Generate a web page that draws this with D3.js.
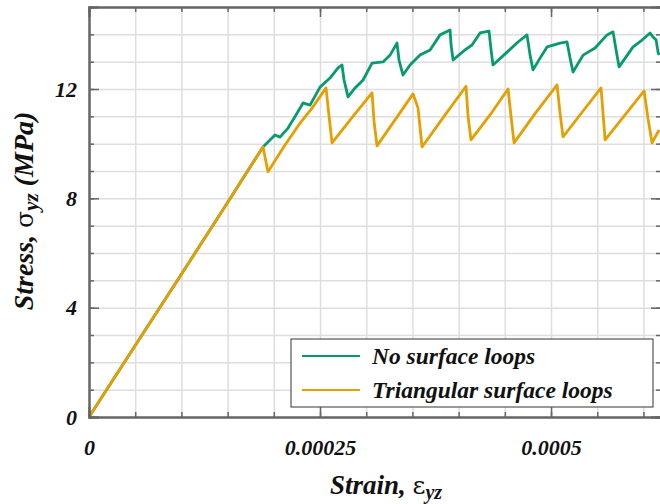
<!DOCTYPE html>
<html>
<head>
<meta charset="utf-8">
<script src="https://cdn.jsdelivr.net/npm/d3@7"></script>
<style>
  body { margin: 0; background: #fff; }
  svg text { font-family: "Liberation Serif", "DejaVu Serif", serif; font-weight: bold; font-style: italic; fill: #111; }
</style>
</head>
<body>
<div id="chart"></div>
<script>
// data
const strainGreen = [0, 0.00005, 0.0001, 0.00015, 0.0001883, 0.0001948, 0.0002013, 0.0002067, 0.0002154, 0.000224,
  0.0002316, 0.0002392, 0.00025, 0.0002608, 0.0002695, 0.0002738, 0.000276, 0.0002803, 0.0002879, 0.0002966,
  0.0003063, 0.0003182, 0.0003258, 0.0003333, 0.0003355, 0.0003398, 0.0003474, 0.0003582, 0.0003691, 0.0003799,
  0.0003907, 0.0003918, 0.000394, 0.0004069, 0.0004145, 0.0004232, 0.0004329, 0.0004351, 0.0004372, 0.0004524,
  0.0004643, 0.000474, 0.0004773, 0.0004805, 0.0004881, 0.0004957, 0.0005098, 0.0005173, 0.0005206, 0.0005238,
  0.0005347, 0.0005476, 0.0005606, 0.0005671, 0.0005704, 0.0005736, 0.0005888, 0.0005985, 0.0006072, 0.0006104,
  0.0006137, 0.0006158, 0.0006169];
const stressGreen = [0, 2.62, 5.22, 7.85, 9.88, 10.10, 10.32, 10.24, 10.57, 11.05,
  11.49, 11.41, 12.07, 12.40, 12.77, 12.88, 12.33, 11.71, 12.04, 12.33,
  12.95, 12.99, 13.24, 13.68, 13.06, 12.51, 12.88, 13.24, 13.43, 13.98,
  14.16, 13.61, 13.06, 13.43, 13.61, 14.05, 14.12, 13.43, 12.88, 13.35,
  13.72, 13.98, 13.24, 12.70, 13.13, 13.54, 13.68, 13.72, 13.13, 12.62,
  13.24, 13.50, 13.98, 14.09, 13.43, 12.81, 13.54, 13.79, 14.05, 13.90,
  13.79, 13.35, 13.24];

const strainOrange = [0, 0.00005, 0.0001, 0.00015, 0.0001883, 0.0001937, 0.0002121, 0.0002284, 0.0002414, 0.0002565,
  0.0002598, 0.000263, 0.0002846, 0.0003063, 0.0003085, 0.0003117, 0.0003312, 0.0003507, 0.0003561, 0.0003604,
  0.0003842, 0.000408, 0.0004102, 0.0004134, 0.000434, 0.0004535, 0.0004567, 0.00046, 0.0004827, 0.0005065,
  0.0005098, 0.000513, 0.0005336, 0.0005541, 0.0005563, 0.0005585, 0.0005801, 0.0006007, 0.000605, 0.0006093,
  0.0006169];
const stressOrange = [0, 2.62, 5.22, 7.85, 9.88, 8.97, 9.95, 10.75, 11.30, 12.04,
  11.00, 10.03, 10.95, 11.86, 10.80, 9.92, 10.87, 11.82, 11.30, 9.88,
  11.00, 12.10, 11.00, 10.14, 11.05, 12.00, 11.00, 10.03, 11.10, 12.15,
  11.10, 10.25, 11.15, 12.04, 11.10, 10.14, 11.05, 11.93, 10.90, 10.03,
  10.50];

const seriesNames = ["No surface loops", "Triangular surface loops"];
const seriesColors = ["#079a70", "#e69f00"];
const yMajor = [0, 4, 8, 12];
const xMajor = [0, 0.00025, 0.0005];
const xMajorLabels = ["0", "0.00025", "0.0005"];

const margin = { top: 7, left: 89 },
  width = 572,
  height = 410;

const x = d3.scaleLinear().domain([0, 0.000619]).range([0, width]);
const y = d3.scaleLinear().domain([0, 15]).range([height, 0]);

const svg = d3.select("#chart").append("svg")
  .attr("width", 660).attr("height", 504);

const g = svg.append("g").attr("transform", `translate(${margin.left},${margin.top})`);

const xMinor = d3.range(0, 0.000619, 0.00005);
const yMinor = d3.range(0, 16, 1);

// grid
g.append("g")
  .attr("transform", `translate(0,${height})`)
  .call(d3.axisBottom(x).tickValues(xMinor).tickSize(-height).tickFormat(""))
  .call((s) => s.select(".domain").remove())
  .call((s) => s.selectAll("line").attr("stroke", "#dedede").attr("stroke-width", 1.5));
g.append("g")
  .call(d3.axisLeft(y).tickValues(yMinor).tickSize(-width).tickFormat(""))
  .call((s) => s.select(".domain").remove())
  .call((s) => s.selectAll("line").attr("stroke", "#dedede").attr("stroke-width", 1.5));

// lines
g.append("clipPath").attr("id", "clip")
  .append("rect").attr("width", width).attr("height", height);

const line = d3.line().x((d) => x(d[0])).y((d) => y(d[1]));
const greenData = strainGreen.map((s, i) => [s, stressGreen[i]]);
const orangeData = strainOrange.map((s, i) => [s, stressOrange[i]]);

g.append("path").datum(greenData)
  .attr("clip-path", "url(#clip)")
  .attr("fill", "none").attr("stroke", seriesColors[0]).attr("stroke-width", 2.8)
  .attr("stroke-linejoin", "round")
  .attr("d", line);
g.append("path").datum(orangeData)
  .attr("clip-path", "url(#clip)")
  .attr("fill", "none").attr("stroke", seriesColors[1]).attr("stroke-width", 2.8)
  .attr("stroke-linejoin", "round")
  .attr("d", line);

// axes
const axisColor = "#666";
function styleAxis(s) {
  s.select(".domain").attr("stroke", axisColor).attr("stroke-width", 2);
  s.selectAll(".tick line").attr("stroke", axisColor).attr("stroke-width", 1.5);
}

// minor ticks
g.append("g").attr("transform", `translate(0,${height})`)
  .call(d3.axisBottom(x).tickValues(xMinor).tickSize(-5).tickFormat("")).call(styleAxis);
g.append("g")
  .call(d3.axisTop(x).tickValues(xMinor).tickSize(-5).tickFormat("")).call(styleAxis);
g.append("g")
  .call(d3.axisLeft(y).tickValues(yMinor).tickSize(-5).tickFormat("")).call(styleAxis);
g.append("g").attr("transform", `translate(${width},0)`)
  .call(d3.axisRight(y).tickValues(yMinor).tickSize(-5).tickFormat("")).call(styleAxis);

// major ticks with labels
g.append("g").attr("transform", `translate(0,${height})`)
  .call(d3.axisBottom(x).tickValues(xMajor).tickSize(-10).tickPadding(22)
    .tickFormat((d, i) => xMajorLabels[i]))
  .call(styleAxis)
  .call((s) => s.selectAll("text").attr("font-size", 22).attr("font-family", null));
g.append("g")
  .call(d3.axisTop(x).tickValues(xMajor).tickSize(-10).tickFormat("")).call(styleAxis);
g.append("g")
  .call(d3.axisLeft(y).tickValues(yMajor).tickSize(-10).tickPadding(12))
  .call(styleAxis)
  .call((s) => s.selectAll("text").attr("font-size", 22).attr("font-family", null));
g.append("g").attr("transform", `translate(${width},0)`)
  .call(d3.axisRight(y).tickValues(yMajor).tickSize(-10).tickFormat("")).call(styleAxis);

// axis titles
const xt = svg.append("text")
  .attr("x", 386).attr("y", 494)
  .attr("text-anchor", "middle").attr("font-size", 27);
xt.append("tspan").text("Strain, ");
xt.append("tspan").attr("font-style", "normal").attr("font-weight", "normal").attr("font-family", "DejaVu Serif").attr("font-size", 25).text("ε");
xt.append("tspan").attr("baseline-shift", "-25%").attr("font-size", 20).text("yz");

const yt = svg.append("text")
  .attr("transform", "translate(33,211) rotate(-90)")
  .attr("text-anchor", "middle").attr("font-size", 28);
yt.append("tspan").text("Stress, ");
yt.append("tspan").attr("font-style", "normal").attr("font-family", "DejaVu Serif").attr("font-weight", "normal").attr("font-size", 25).text("σ");
yt.append("tspan").attr("baseline-shift", "-25%").attr("font-size", 21).text("yz");
yt.append("tspan").attr("baseline-shift", "0%").text(" (MPa)");

// legend
const legend = svg.append("g");
legend.append("rect")
  .attr("x", 291).attr("y", 339).attr("width", 362).attr("height", 68)
  .attr("fill", "#fff").attr("stroke", "#555").attr("stroke-width", 1.2);
seriesNames.forEach((name, i) => {
  const ly = 356 + i * 34;
  legend.append("line")
    .attr("x1", 302).attr("x2", 360).attr("y1", ly).attr("y2", ly)
    .attr("stroke", seriesColors[i]).attr("stroke-width", 2.2);
  legend.append("text")
    .attr("x", 372).attr("y", ly + 8).attr("font-size", 23.5).text(name);
});
</script>
</body>
</html>
